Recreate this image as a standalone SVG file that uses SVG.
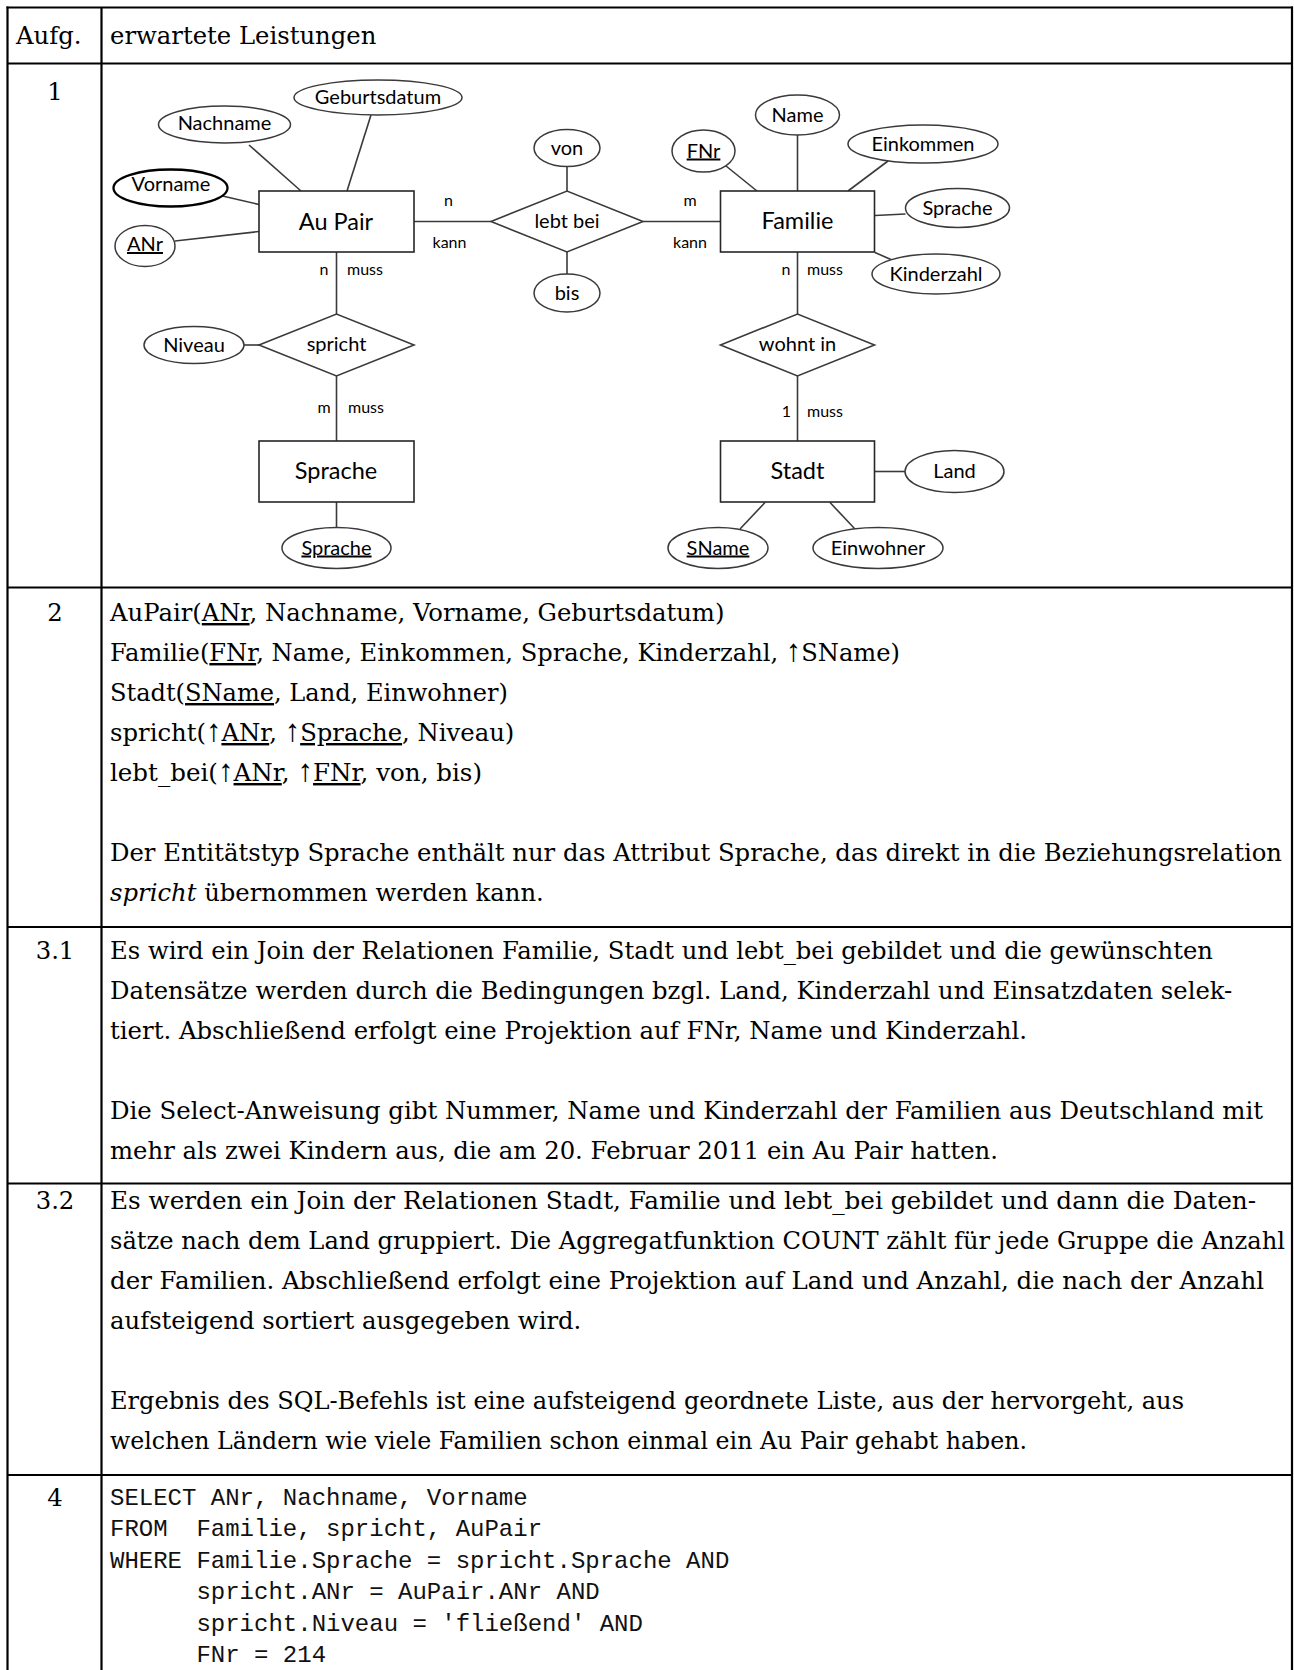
<svg xmlns="http://www.w3.org/2000/svg" width="1294" height="1670" viewBox="0 0 1294 1670">
<style>
.tbl{stroke:#000;stroke-width:2.2;fill:none}
.body{font-family:"DejaVu Serif","Liberation Serif",serif;font-size:24.3px;fill:#000}
.num{text-anchor:middle}
.arr{font-family:"Liberation Serif","DejaVu Serif",serif;font-size:31px}
.mono{font-family:"Liberation Mono","DejaVu Sans Mono",monospace;font-size:24px;fill:#111;white-space:pre}
.ent{fill:#fff;stroke:#262626;stroke-width:1.6}
.attr{fill:#fff;stroke:#3a3a3a;stroke-width:1.5}
.bold{stroke:#000;stroke-width:2.3}
.rel{fill:#fff;stroke:#3a3a3a;stroke-width:1.6}
.con{stroke:#3a3a3a;stroke-width:1.6;fill:none}
.lbl{font-family:Lato,"Open Sans",sans-serif;fill:#000;text-anchor:middle}
.el{font-size:23.5px}
.al{font-size:20px}
.sl{font-size:16px}
.u{text-decoration:underline}
</style>

<g id="table">
  <line class="tbl" x1="6.5" y1="7.5" x2="1293" y2="7.5"/>
  <line class="tbl" x1="7.5" y1="6.5" x2="7.5" y2="1670"/>
  <line class="tbl" x1="1292" y1="6.5" x2="1292" y2="1670"/>
  <line class="tbl" x1="101.5" y1="7.5" x2="101.5" y2="1670"/>
  <line class="tbl" x1="7.5" y1="63.5" x2="1292" y2="63.5"/>
  <line class="tbl" x1="7.5" y1="587.5" x2="1292" y2="587.5"/>
  <line class="tbl" x1="7.5" y1="927" x2="1292" y2="927"/>
  <line class="tbl" x1="7.5" y1="1183.5" x2="1292" y2="1183.5"/>
  <line class="tbl" x1="7.5" y1="1475" x2="1292" y2="1475"/>
</g>

<g id="header" class="body">
  <text x="16" y="43.5">Aufg.</text>
  <text x="110" y="43.5">erwartete Leistungen</text>
</g>

<g id="row-labels" class="body num">
  <text x="55" y="100">1</text>
  <text x="55" y="621">2</text>
  <text x="55" y="959">3.1</text>
  <text x="55" y="1209">3.2</text>
  <text x="55" y="1506">4</text>
</g>

<g id="connectors">
  <line class="con" x1="414" y1="221.5" x2="491" y2="221.5"/>
  <line class="con" x1="643" y1="221.5" x2="720.5" y2="221.5"/>
  <line class="con" x1="336.5" y1="252" x2="336.5" y2="314"/>
  <line class="con" x1="336.5" y1="376" x2="336.5" y2="441"/>
  <line class="con" x1="797.5" y1="252" x2="797.5" y2="314"/>
  <line class="con" x1="797.5" y1="376" x2="797.5" y2="441"/>
  <line class="con" x1="567" y1="166" x2="567" y2="191"/>
  <line class="con" x1="567" y1="252" x2="567" y2="274"/>
  <line class="con" x1="249" y1="145" x2="301" y2="191"/>
  <line class="con" x1="371" y1="115" x2="347" y2="191"/>
  <line class="con" x1="222.5" y1="196" x2="259" y2="204.5"/>
  <line class="con" x1="175" y1="241" x2="259" y2="231.5"/>
  <line class="con" x1="726" y1="166" x2="757" y2="191"/>
  <line class="con" x1="797.5" y1="135" x2="797.5" y2="191"/>
  <line class="con" x1="888" y1="161" x2="848" y2="191"/>
  <line class="con" x1="875" y1="215.5" x2="905.5" y2="214"/>
  <line class="con" x1="875" y1="252.5" x2="892" y2="260"/>
  <line class="con" x1="244" y1="345" x2="259" y2="345"/>
  <line class="con" x1="336.5" y1="502" x2="336.5" y2="528"/>
  <line class="con" x1="875" y1="471.5" x2="905" y2="471.5"/>
  <line class="con" x1="765" y1="502.5" x2="740" y2="529"/>
  <line class="con" x1="830" y1="502.5" x2="855" y2="529"/>
  <g class="lbl sl">
    <text x="448.5" y="206">n</text>
    <text x="449.5" y="247.5">kann</text>
    <text x="690" y="206">m</text>
    <text x="690" y="247.5">kann</text>
    <text x="324" y="275">n</text>
    <text x="365" y="275">muss</text>
    <text x="786" y="275">n</text>
    <text x="825" y="275">muss</text>
    <text x="324" y="413">m</text>
    <text x="366" y="413">muss</text>
    <text x="786.5" y="416.5">1</text>
    <text x="825" y="416.5">muss</text>
  </g>
</g>

<g id="aupair"><rect class="ent" x="259" y="191" width="155" height="61"/><text class="lbl el" x="336" y="230">Au Pair</text></g>
<g id="familie"><rect class="ent" x="720.5" y="191" width="154" height="61"/><text class="lbl el" x="797.5" y="229">Familie</text></g>
<g id="sprache"><rect class="ent" x="259" y="441" width="155" height="61"/><text class="lbl el" x="336" y="478.5">Sprache</text></g>
<g id="stadt"><rect class="ent" x="720.5" y="441" width="154" height="61"/><text class="lbl el" x="797.5" y="478.5">Stadt</text></g>

<g id="lebtbei"><polygon class="rel" points="491,221.5 567,191 643,221.5 567,252"/><text class="lbl al" x="567" y="228">lebt bei</text></g>
<g id="spricht"><polygon class="rel" points="259,345 336.5,314 414,345 336.5,376"/><text class="lbl al" x="336.5" y="351">spricht</text></g>
<g id="wohntin"><polygon class="rel" points="720.5,345 797.5,314 874.5,345 797.5,376"/><text class="lbl al" x="797.5" y="351">wohnt in</text></g>

<g id="a-nachname"><ellipse class="attr" cx="224.5" cy="124.5" rx="66" ry="18.5"/><text class="lbl al" x="224.5" y="130">Nachname</text></g>
<g id="a-geburtsdatum"><ellipse class="attr" cx="378" cy="97.5" rx="84" ry="17.5"/><text class="lbl al" x="378" y="104">Geburtsdatum</text></g>
<g id="a-vorname"><ellipse class="attr bold" cx="170.5" cy="188" rx="57" ry="18.5"/><text class="lbl al" x="171" y="191">Vorname</text></g>
<g id="a-anr"><ellipse class="attr" cx="145" cy="246" rx="30" ry="20.5"/><text class="lbl al u" x="145" y="251">ANr</text></g>
<g id="a-von"><ellipse class="attr" cx="567" cy="148" rx="33" ry="18.5"/><text class="lbl al" x="567" y="155">von</text></g>
<g id="a-bis"><ellipse class="attr" cx="567" cy="293" rx="33" ry="19"/><text class="lbl al" x="567" y="300">bis</text></g>
<g id="a-fnr"><ellipse class="attr" cx="703.5" cy="151" rx="31.5" ry="21"/><text class="lbl al u" x="703.5" y="157.5">FNr</text></g>
<g id="a-name"><ellipse class="attr" cx="797.5" cy="115" rx="42" ry="20"/><text class="lbl al" x="797.5" y="121.5">Name</text></g>
<g id="a-einkommen"><ellipse class="attr" cx="923" cy="144" rx="75" ry="19"/><text class="lbl al" x="923" y="151">Einkommen</text></g>
<g id="a-sprache-f"><ellipse class="attr" cx="957.5" cy="208" rx="52" ry="19.5"/><text class="lbl al" x="957.5" y="215">Sprache</text></g>
<g id="a-kinderzahl"><ellipse class="attr" cx="936" cy="274" rx="64" ry="20"/><text class="lbl al" x="936" y="281">Kinderzahl</text></g>
<g id="a-niveau"><ellipse class="attr" cx="194" cy="345" rx="50" ry="18.5"/><text class="lbl al" x="194" y="351.5">Niveau</text></g>
<g id="a-sprache"><ellipse class="attr" cx="336.5" cy="548" rx="54.5" ry="20.5"/><text class="lbl al u" x="336.5" y="554.5">Sprache</text></g>
<g id="a-land"><ellipse class="attr" cx="954.5" cy="471.5" rx="49.5" ry="21"/><text class="lbl al" x="954.5" y="478">Land</text></g>
<g id="a-sname"><ellipse class="attr" cx="718" cy="548" rx="50" ry="20.5"/><text class="lbl al u" x="718" y="554.5">SName</text></g>
<g id="a-einwohner"><ellipse class="attr" cx="878" cy="548" rx="65" ry="20.5"/><text class="lbl al" x="878" y="554.5">Einwohner</text></g>

<g id="row2" class="body">
  <text x="110" y="621">AuPair(<tspan class="u">ANr</tspan>, Nachname, Vorname, Geburtsdatum)</text>
  <text x="110" y="661" textLength="790" lengthAdjust="spacingAndGlyphs">Familie(<tspan class="u">FNr</tspan>, Name, Einkommen, Sprache, Kinderzahl, <tspan class="arr">↑</tspan>SName)</text>
  <text x="110" y="701" textLength="398" lengthAdjust="spacingAndGlyphs">Stadt(<tspan class="u">SName</tspan>, Land, Einwohner)</text>
  <text x="110" y="741">spricht(<tspan class="arr">↑</tspan><tspan class="u">ANr</tspan>, <tspan class="arr">↑</tspan><tspan class="u">Sprache</tspan>, Niveau)</text>
  <text x="110" y="781" textLength="372" lengthAdjust="spacingAndGlyphs">lebt_bei(<tspan class="arr">↑</tspan><tspan class="u">ANr</tspan>, <tspan class="arr">↑</tspan><tspan class="u">FNr</tspan>, von, bis)</text>
  <text x="110" y="861" textLength="1172" lengthAdjust="spacingAndGlyphs">Der Entitätstyp Sprache enthält nur das Attribut Sprache, das direkt in die Beziehungsrelation</text>
  <text x="110" y="901"><tspan font-style="italic">spricht</tspan> übernommen werden kann.</text>
</g>

<g id="row31" class="body">
  <text x="110" y="959" textLength="1103" lengthAdjust="spacingAndGlyphs">Es wird ein Join der Relationen Familie, Stadt und lebt_bei gebildet und die gewünschten</text>
  <text x="110" y="999">Datensätze werden durch die Bedingungen bzgl. Land, Kinderzahl und Einsatzdaten selek-</text>
  <text x="110" y="1039" textLength="917" lengthAdjust="spacingAndGlyphs">tiert. Abschließend erfolgt eine Projektion auf FNr, Name und Kinderzahl.</text>
  <text x="110" y="1119" textLength="1153" lengthAdjust="spacingAndGlyphs">Die Select-Anweisung gibt Nummer, Name und Kinderzahl der Familien aus Deutschland mit</text>
  <text x="110" y="1159" textLength="888" lengthAdjust="spacingAndGlyphs">mehr als zwei Kindern aus, die am 20. Februar 2011 ein Au Pair hatten.</text>
</g>

<g id="row32" class="body">
  <text x="110" y="1209" textLength="1146" lengthAdjust="spacingAndGlyphs">Es werden ein Join der Relationen Stadt, Familie und lebt_bei gebildet und dann die Daten-</text>
  <text x="110" y="1249" textLength="1175" lengthAdjust="spacingAndGlyphs">sätze nach dem Land gruppiert. Die Aggregatfunktion COUNT zählt für jede Gruppe die Anzahl</text>
  <text x="110" y="1289" textLength="1154" lengthAdjust="spacingAndGlyphs">der Familien. Abschließend erfolgt eine Projektion auf Land und Anzahl, die nach der Anzahl</text>
  <text x="110" y="1329">aufsteigend sortiert ausgegeben wird.</text>
  <text x="110" y="1409" textLength="1074" lengthAdjust="spacingAndGlyphs">Ergebnis des SQL-Befehls ist eine aufsteigend geordnete Liste, aus der hervorgeht, aus</text>
  <text x="110" y="1449" textLength="917" lengthAdjust="spacingAndGlyphs">welchen Ländern wie viele Familien schon einmal ein Au Pair gehabt haben.</text>
</g>

<g id="row4" class="mono">
  <text x="110" y="1505" xml:space="preserve">SELECT ANr, Nachname, Vorname</text>
  <text x="110" y="1536.4" xml:space="preserve">FROM  Familie, spricht, AuPair</text>
  <text x="110" y="1567.8" xml:space="preserve">WHERE Familie.Sprache = spricht.Sprache AND</text>
  <text x="110" y="1599.2" xml:space="preserve">      spricht.ANr = AuPair.ANr AND</text>
  <text x="110" y="1630.6" xml:space="preserve">      spricht.Niveau = 'fließend' AND</text>
  <text x="110" y="1662" xml:space="preserve">      FNr = 214</text>
</g>
</svg>
